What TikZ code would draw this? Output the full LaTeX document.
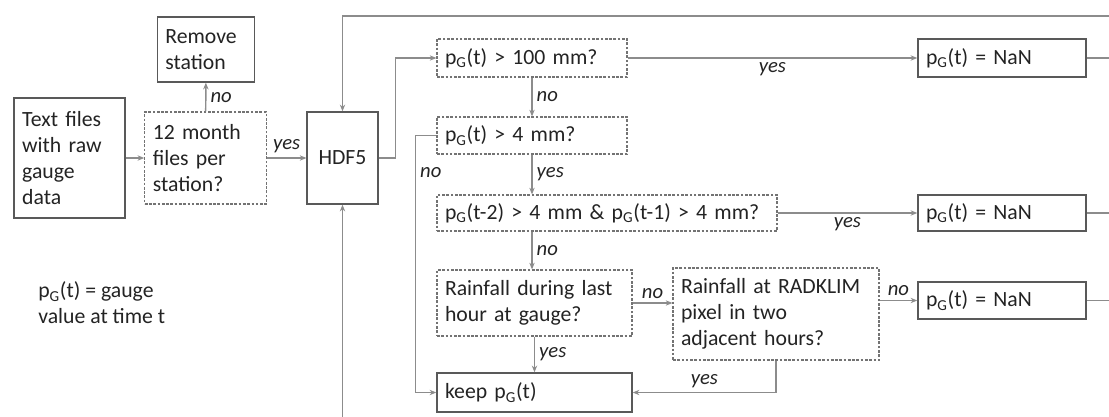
\documentclass[tikz,border=0pt]{standalone}
\usepackage{fontspec}
\setmainfont{Carlito}
\usetikzlibrary{arrows.meta, positioning, calc}
\definecolor{boxgray}{RGB}{89, 89, 89}
\definecolor{dashgray}{RGB}{115, 115, 115}
\definecolor{linegray}{RGB}{140, 140, 140}
\definecolor{txtgray}{RGB}{35, 35, 35}

\begin{document}
\begin{tikzpicture}[
    x=0.75pt, y=-0.75pt,
    >={Stealth[length=5pt,width=4pt]},
    procbox/.style={draw=boxgray, line width=1.1pt, align=left, inner xsep=6pt, inner ysep=2pt,
        text=txtgray, font=\fontsize{16.3}{19.5}\selectfont},
    testbox/.style={draw=dashgray, line width=0.9pt, dash pattern=on 2pt off 1.2pt, align=left,
        inner xsep=6pt, inner ysep=2pt, text=txtgray, font=\fontsize{16.3}{19.5}\selectfont},
    arrow/.style={->, line width=1.1pt, linegray},
    link/.style={line width=1.1pt, linegray},
    lbl/.style={font=\fontsize{15.5}{18}\selectfont\itshape, text=txtgray, inner sep=3pt}
]
    \useasboundingbox (0,0) rectangle (1109,417);

    \node[procbox, text width=71pt, minimum height=90pt] (src) at (69.5,158) {Text files\\with raw\\gauge\\data};
    \node[procbox, text width=61pt, minimum height=48.75pt] (rem) at (206,49.5) {Remove\\station};
    \node[testbox, text width=79pt, minimum height=69pt] (chk) at (205.5,158) {12 month\\files per\\station?};
    \node[procbox, text width=41pt, align=center, minimum height=69pt] (hdf) at (342.5,158) {HDF5};

    \node[testbox, text width=130.5pt, minimum height=28.5pt] (q1) at (532,58) {p\textsubscript{G}(t) > 100 mm?};
    \node[procbox, text width=114pt, minimum height=28.5pt] (nan1) at (1002,58) {p\textsubscript{G}(t) = NaN};
    \node[testbox, text width=130.5pt, minimum height=27.75pt] (q2) at (532,135.5) {p\textsubscript{G}(t) > 4 mm?};
    \node[testbox, text width=243pt, minimum height=27pt] (q3) at (607,213) {p\textsubscript{G}(t-2) > 4 mm \& p\textsubscript{G}(t-1) > 4 mm?};
    \node[procbox, text width=114pt, minimum height=27pt] (nan2) at (1002,213) {p\textsubscript{G}(t) = NaN};
    \node[testbox, text width=134.25pt, minimum height=49.5pt] (q4) at (534.5,303) {Rainfall during last\\hour at gauge?};
    \node[testbox, text width=142.5pt, minimum height=69pt] (q5) at (776,314) {Rainfall at RADKLIM\\pixel in two\\adjacent hours?};
    \node[procbox, text width=114pt, minimum height=27.75pt] (nan3) at (1002,300.5) {p\textsubscript{G}(t) = NaN};
    \node[procbox, text width=134.25pt, minimum height=29.25pt] (keep) at (534.5,392.5) {keep p\textsubscript{G}(t)};

    \node[align=left, anchor=west, inner sep=0pt, text=txtgray, font=\fontsize{16.3}{19.5}\selectfont] (legend) at (38,303)
        {p\textsubscript{G}(t) = gauge\\value at time t};

    \coordinate (topr) at (1109,16);
    \coordinate (botm) at (342.5,417);

    \draw[arrow] (src) -- (chk);
    \draw[arrow] (chk) -- node[right, lbl] {no} (rem);
    \draw[arrow] (chk) -- node[above, lbl] {yes} (hdf);
    \draw[arrow] (hdf.east) -- ++(17,0) |- (q1.west);
    \draw[arrow] (q1) -- node[below, lbl] {yes} (nan1);
    \draw[arrow] (q1) -- node[right, lbl] {no} (q2);
    \draw[arrow] (q2) -- node[right, lbl] {yes} (q2 |- q3.north);
    \draw[arrow] (q2.west) -- ++(-21,0) |- node[pos=0.072, right, lbl] {no} (keep.west);
    \draw[arrow] (q3) -- node[below, lbl] {yes} (nan2);
    \draw[arrow] (q2 |- q3.south) -- node[right, lbl] {no} (q2 |- q4.north);
    \draw[arrow] (q4.east) -- node[above, lbl] {no} (q4.east -| q5.west);
    \draw[arrow] (q5.east |- nan3.west) -- node[above, lbl] {no} (nan3.west);
    \draw[arrow] (q4) -- node[right, lbl] {yes} (keep);
    \draw[arrow] (q5.south) |- node[pos=0.75, above, lbl] {yes} (keep.east);
    \draw[arrow] (topr) -| (hdf.north);
    \draw[arrow] (botm) -- (hdf.south);
    \foreach \n in {nan1,nan2,nan3}
        \draw[link] (\n.east) -- (\n.east -| topr);
\end{tikzpicture}
\end{document}
